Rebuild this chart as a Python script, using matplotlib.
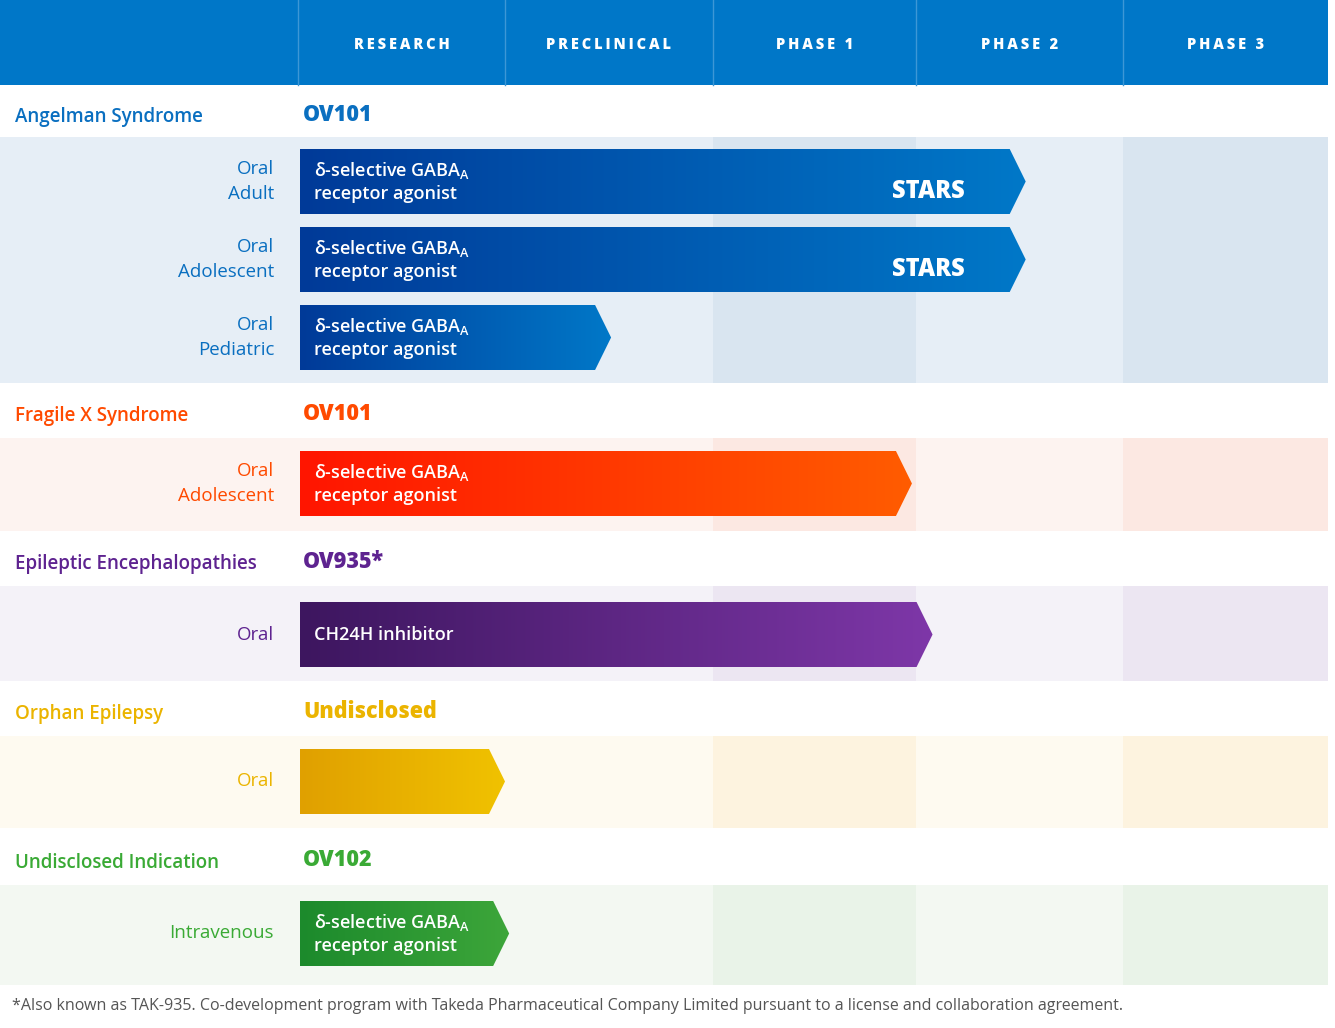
import numpy as np
import matplotlib
matplotlib.use('Agg')
import matplotlib.pyplot as plt
from matplotlib.patches import Polygon, Rectangle
from matplotlib.colors import LinearSegmentedColormap

plt.rcParams['font.family'] = 'Open Sans'

PHASES = ["RESEARCH", "PRECLINICAL", "PHASE 1", "PHASE 2", "PHASE 3"]
COL_EDGES = [298, 505, 713, 916, 1123, 1328]

INDICATIONS = ["Angelman Syndrome", "Fragile X Syndrome", "Epileptic Encephalopathies",
               "Orphan Epilepsy", "Undisclosed Indication"]
COMPOUNDS = ["OV101", "OV101", "OV935*", "Undisclosed", "OV102"]
ROUTES = [["Oral\nAdult", "Oral\nAdolescent", "Oral\nPediatric"], ["Oral\nAdolescent"],
          ["Oral"], ["Oral"], ["Intravenous"]]
MECHANISMS = [["δ-selective GABA$_\\mathregular{A}$\nreceptor agonist"] * 3,
              ["δ-selective GABA$_\\mathregular{A}$\nreceptor agonist"],
              ["CH24H inhibitor"], [""],
              ["δ-selective GABA$_\\mathregular{A}$\nreceptor agonist"]]
# progress in stage units (0 = start of research, 5 = end of phase 3)
PROGRESS = [[3.53, 3.53, 1.51], [2.98], [3.08], [1.0], [1.02]]
STARS = [[True, True, False], [False], [False], [False], [False]]

TEXT_COL = ["#0a6fc0", "#ff4a00", "#5e2390", "#ebb400", "#3aaa35"]
BAR_C0 = ["#003a98", "#ff1500", "#3d165f", "#e0a000", "#1c8a2c"]
BAR_C1 = ["#0078c8", "#ff5c00", "#7e37a8", "#f0c200", "#3da63a"]
BAND = ["#e6eef6", "#fdf3f0", "#f4f2f8", "#fefaf0", "#f3f8f2"]
BAND_DARK = ["#d9e5f0", "#fce8e2", "#ece6f2", "#fdf3df", "#e9f3e8"]

# layout (pixels)
TITLE_Y = [85, 383, 531, 681, 828]
BAND_Y = [(137, 383), (438, 531), (586, 681), (736, 828), (885, 985)]
BAR_TOP = [[149, 227, 305], [451], [602], [749], [901]]
BAR_H = 65


def spaced(s):
    return "\u2009".join(s)


W, H = 1335, 1028
fig = plt.figure(figsize=(W / 100, H / 100), dpi=100)
ax = fig.add_axes([0, 0, 1, 1])
ax.set_xlim(0, W)
ax.set_ylim(H, 0)
ax.axis('off')

# header
ax.add_patch(Rectangle((0, 0), 1328, 85, color="#0077c8", lw=0))
for i, name in enumerate(PHASES):
    x0, x1 = COL_EDGES[i], COL_EDGES[i + 1]
    ax.plot([x0, x0], [0, 85], color="#3d97d6", lw=1)
    ax.text((x0 + x1) / 2, 45, spaced(name), color="white", fontsize=10.5,
            fontweight='extra bold', ha='center', va='center')

for k in range(len(INDICATIONS)):
    b0, b1 = BAND_Y[k]
    ax.add_patch(Rectangle((0, b0), 1328, b1 - b0, color=BAND[k], lw=0))
    for c in (2, 4):
        ax.add_patch(Rectangle((COL_EDGES[c], b0), COL_EDGES[c + 1] - COL_EDGES[c], b1 - b0,
                               color=BAND_DARK[k], lw=0))
    ty = (TITLE_Y[k] + b0) / 2 + 6
    ax.text(15, ty, INDICATIONS[k], color=TEXT_COL[k], fontsize=13.5, fontweight='semibold',
            ha='left', va='center')
    ax.text(COL_EDGES[0] + 5, ty - 2, COMPOUNDS[k], color=TEXT_COL[k], fontsize=15.5,
            fontweight='extra bold', ha='left', va='center')
    cmap = LinearSegmentedColormap.from_list("g", [BAR_C0[k], BAR_C1[k]])
    for j, top in enumerate(BAR_TOP[k]):
        mid = top + BAR_H / 2
        ax.text(274, mid, ROUTES[k][j], color=TEXT_COL[k], fontsize=13.5, ha='right',
                va='center', linespacing=1.45)
        x0 = 300
        x1 = np.interp(PROGRESS[k][j], range(6), COL_EDGES)
        tip = 16
        poly = Polygon([(x0, top), (x1 - tip, top), (x1, mid), (x1 - tip, top + BAR_H),
                        (x0, top + BAR_H)], closed=True, facecolor='none', edgecolor='none')
        ax.add_patch(poly)
        grad = np.linspace(0, 1, 256).reshape(1, -1)
        im = ax.imshow(grad, cmap=cmap, extent=(x0, x1, top + BAR_H, top), aspect='auto',
                       zorder=2)
        im.set_clip_path(poly)
        ax.text(314, mid, MECHANISMS[k][j], color="white", fontsize=13, fontweight='semibold',
                ha='left', va='center', linespacing=1.35, zorder=3)
        if STARS[k][j]:
            ax.text(928, mid + 10, "STARS", color="white", fontsize=17, fontweight='extra bold',
                    ha='center', va='center', zorder=3)

ax.text(12, 1006, "*Also known as TAK-935. Co-development program with Takeda Pharmaceutical "
        "Company Limited pursuant to a license and collaboration agreement.",
        color="#555555", fontsize=11.5, ha='left', va='center')

fig.savefig("out.png", dpi=100, facecolor="white")
